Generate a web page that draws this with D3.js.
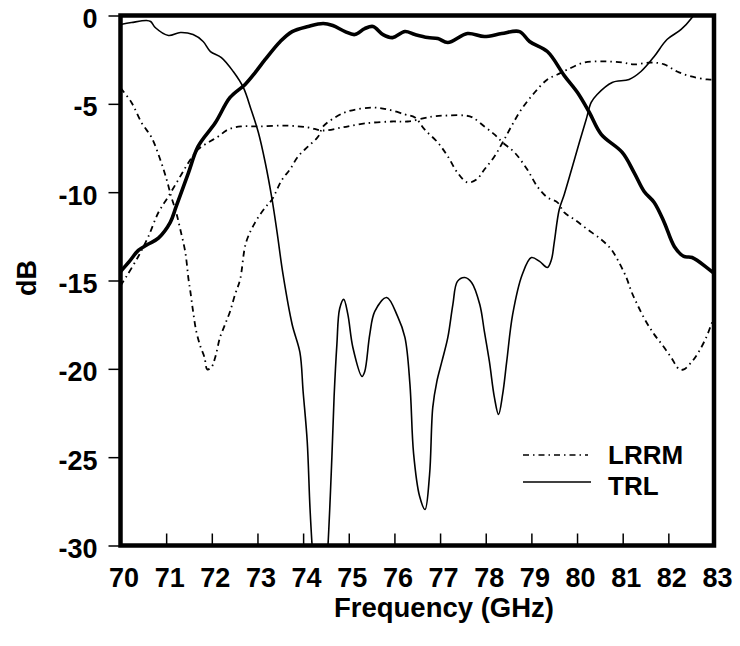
<!DOCTYPE html>
<html>
<head>
<meta charset="utf-8">
<script src="https://cdn.jsdelivr.net/npm/d3@7"></script>
<style>
  body { margin: 0; background: #fff; }
  svg text { font-family: "Liberation Sans", Arial, sans-serif; font-weight: bold; fill: #000; }
</style>
</head>
<body>
<div id="chart"></div>
<script>
// TRL, transmission (thick)
let trlS21 = [
  [70, -14.49], [70.2, -13.9], [70.39, -13.3], [70.6, -12.95], [70.83, -12.6], [71.09, -11.71], [71.22, -10.81],
  [71.49, -8.89], [71.70, -7.41], [72.08, -6.06], [72.40, -4.64], [72.73, -3.90],
  [72.95, -3.23], [73.17, -2.49], [73.50, -1.47], [73.76, -0.91], [74.11, -0.62],
  [74.44, -0.45], [74.65, -0.57], [74.92, -0.91], [75.13, -1.08], [75.35, -0.74],
  [75.53, -0.62], [75.75, -1.08], [75.96, -1.25], [76.23, -0.91], [76.45, -1.08],
  [76.73, -1.25], [76.95, -1.30], [77.17, -1.53], [77.60, -1.02], [77.97, -1.19],
  [78.35, -1.02], [78.74, -0.91], [78.96, -1.47], [79.35, -2.04], [79.72, -3.40],
  [80.01, -4.36], [80.27, -5.49], [80.53, -6.73], [80.99, -7.75], [81.25, -8.89],
  [81.47, -9.96], [81.69, -10.58], [81.91, -11.71], [82.13, -13.07], [82.34, -13.64],
  [82.52, -13.70], [83, -14.60]
];

// TRL, reflection (thin)
let trlS11 = [
  [70, -0.51], [70.24, -0.40], [70.57, -0.28], [70.66, -0.34], [70.76, -0.68],
  [71.05, -1.13], [71.31, -0.96], [71.59, -1.08], [71.81, -1.47], [71.97, -2.04],
  [72.21, -2.38], [72.47, -3.17], [72.69, -4.07], [72.86, -5.32], [73.02, -6.62],
  [73.17, -8.32], [73.32, -10.41], [73.43, -12.28], [73.56, -14.66],
  [73.76, -17.49], [73.93, -19.07], [74.00, -21.28], [74.09, -24.11], [74.15, -27.84],
  [74.21, -30.5], [74.30, -33], [74.46, -33], [74.54, -30.2], [74.63, -25.01],
  [74.68, -21.5], [74.74, -18.6], [74.80, -16.6], [74.89, -16.07], [74.98, -16.92],
  [75.09, -18.79], [75.29, -20.43], [75.35, -20.15], [75.46, -18.05], [75.57, -16.75],
  [75.83, -15.96], [76.07, -17.03], [76.23, -18.22], [76.34, -20.88], [76.42, -24.8],
  [76.55, -27.2], [76.67, -27.96], [76.77, -25.98], [76.84, -22.18], [76.93, -20.71],
  [77.04, -19.58], [77.17, -18.22], [77.28, -16.36], [77.38, -15.05], [77.54, -14.83],
  [77.69, -15.11], [77.87, -16.36], [77.97, -17.88], [78.08, -19.58], [78.19, -21.62],
  [78.28, -22.58], [78.37, -21.45], [78.46, -19.58], [78.59, -16.92], [78.80, -14.66],
  [79.00, -13.70], [79.18, -13.92], [79.35, -14.26], [79.44, -13.81], [79.50, -12.85],
  [79.61, -10.98], [79.72, -10.13], [79.88, -8.72], [80.05, -7.19], [80.20, -5.89],
  [80.31, -4.92], [80.44, -4.47], [80.77, -3.79], [81.14, -3.62], [81.40, -3.17],
  [81.69, -2.32], [81.97, -1.36], [82.28, -0.79], [82.52, -0.11], [82.65, 0.4]
];

// LRRM, reflection
let lrrmS11 = [
  [70, -4.1], [70.24, -4.92], [70.46, -6.06], [70.68, -6.90], [70.87, -8.15],
  [71.01, -9.28], [71.11, -10.24], [71.22, -11.15], [71.31, -12.11], [71.42, -13.41],
  [71.49, -14.94], [71.53, -15.62], [71.59, -16.75], [71.66, -17.88], [71.75, -18.73],
  [71.84, -19.35], [71.90, -20.03], [71.99, -19.92], [72.08, -19.30], [72.18, -18.22],
  [72.29, -17.49], [72.40, -16.75], [72.51, -15.79], [72.62, -14.94], [72.75, -12.85],
  [72.95, -11.71], [73.17, -10.87], [73.32, -10.41], [73.54, -9.28], [73.71, -8.72],
  [73.89, -7.98], [74.11, -7.41], [74.33, -6.85], [74.44, -6.28], [74.70, -5.77],
  [74.98, -5.43], [75.51, -5.21], [75.86, -5.32], [76.23, -5.60], [76.45, -5.77],
  [76.66, -6.45], [76.95, -7.19], [77.17, -7.98], [77.38, -8.89], [77.60, -9.45],
  [77.80, -9.28], [77.97, -8.72], [78.19, -7.98], [78.37, -7.19], [78.56, -6.28],
  [78.78, -5.32], [79.07, -4.36], [79.35, -3.62], [79.57, -3.34], [79.79, -3.06],
  [80.16, -2.66], [80.60, -2.60], [80.99, -2.66], [81.25, -2.77], [81.62, -2.66],
  [81.91, -2.77], [82.19, -3.17], [82.50, -3.45], [82.85, -3.62], [83, -3.62]
];

// LRRM, transmission
let lrrmS21 = [
  [70, -15.3], [70.13, -14.77], [70.39, -13.64], [70.61, -12.51], [70.83, -11.15],
  [71.05, -10.24], [71.27, -9.28], [71.49, -8.32], [71.70, -7.58], [71.92, -7.19],
  [72.14, -6.85], [72.36, -6.45], [72.64, -6.28], [73.02, -6.28], [73.61, -6.23],
  [74.11, -6.34], [74.44, -6.51], [74.85, -6.34], [75.35, -6.11], [75.94, -6.00],
  [76.29, -6.00], [76.82, -5.72], [77.17, -5.66], [77.54, -5.66], [77.71, -5.77],
  [77.97, -6.28], [78.19, -6.73], [78.37, -7.19], [78.63, -7.75], [78.91, -8.72],
  [79.13, -9.68], [79.35, -10.30], [79.57, -10.58], [79.72, -11.15], [79.94, -11.54],
  [80.23, -12.11], [80.53, -12.68], [80.75, -13.24], [80.92, -13.98], [81.08, -14.83],
  [81.19, -15.62], [81.32, -16.36], [81.51, -17.32], [81.69, -18.05], [81.86, -18.62],
  [82.06, -19.35], [82.24, -20.03], [82.34, -20.03], [82.52, -19.58], [82.67, -19.02],
  [82.83, -18.22], [82.94, -17.49], [83, -17.1]
];

let xTicks = d3.range(70, 84);
let yTicks = [0, -5, -10, -15, -20, -25, -30];
let legendLabels = ['LRRM', 'TRL'];

let width = 740,
    height = 646,
    margins = { top: 15.5, right: 26, bottom: 100.5, left: 120.5 };

let x = d3.scaleLinear()
  .domain([70, 83])
  .range([margins.left, width - margins.right]);

let y = d3.scaleLinear()
  .domain([-30, 0])
  .range([height - margins.bottom, margins.top]);

let $svg = d3.select('#chart').append('svg')
  .attr('width', width)
  .attr('height', height);

$svg.append('clipPath')
  .attr('id', 'plot-clip')
  .append('rect')
  .attr('x', x(70))
  .attr('y', y(0))
  .attr('width', x(83) - x(70))
  .attr('height', y(-30) - y(0));

let line = d3.line()
  .x(d => x(d[0]))
  .y(d => y(d[1]))
  .curve(d3.curveCatmullRom.alpha(0.5));

let dashDot = '6,4,1.5,4';

let $lines = $svg.append('g').attr('clip-path', 'url(#plot-clip)');

$lines.append('path')
  .attr('d', line(lrrmS21))
  .attr('fill', 'none')
  .attr('stroke', '#000')
  .attr('stroke-width', 1.8)
  .attr('stroke-dasharray', dashDot);

$lines.append('path')
  .attr('d', line(lrrmS11))
  .attr('fill', 'none')
  .attr('stroke', '#000')
  .attr('stroke-width', 1.8)
  .attr('stroke-dasharray', dashDot);

$lines.append('path')
  .attr('d', line(trlS11))
  .attr('fill', 'none')
  .attr('stroke', '#000')
  .attr('stroke-width', 1.6);

$lines.append('path')
  .attr('d', line(trlS21))
  .attr('fill', 'none')
  .attr('stroke', '#000')
  .attr('stroke-width', 3.6);

// y axis: ticks outward, labels at the left
let yAxis = d3.axisLeft(y)
  .tickValues(yTicks)
  .tickSize(12)
  .tickPadding(11)
  .tickFormat(d => String(d));

let $yAxis = $svg.append('g')
  .attr('transform', `translate(${x(70)},0)`)
  .call(yAxis);

$yAxis.select('.domain').remove();
$yAxis.selectAll('line').attr('stroke-width', 1.5);
$yAxis.selectAll('text')
  .style('font-size', '27px')
  .attr('dy', '0.45em');

// x axis: ticks point into the plot
let xAxis = d3.axisBottom(x)
  .tickValues(xTicks)
  .tickSize(-12)
  .tickPadding(22)
  .tickFormat(d => String(d));

let $xAxis = $svg.append('g')
  .attr('transform', `translate(0,${y(-30)})`)
  .call(xAxis);

$xAxis.select('.domain').remove();
$xAxis.selectAll('line')
  .attr('stroke-width', 1.5)
  .style('display', d => (d === 70 || d === 83) ? 'none' : null);
$xAxis.selectAll('text')
  .style('font-size', '27px')
  .attr('dx', 3);

// frame
$svg.append('rect')
  .attr('x', x(70))
  .attr('y', y(0))
  .attr('width', x(83) - x(70))
  .attr('height', y(-30) - y(0))
  .attr('fill', 'none')
  .attr('stroke', '#000')
  .attr('stroke-width', 4.5);

// axis titles
$svg.append('text')
  .attr('x', 444)
  .attr('y', 617)
  .attr('text-anchor', 'middle')
  .style('font-size', '27.5px')
  .text('Frequency (GHz)');

$svg.append('text')
  .attr('transform', 'translate(36,278) rotate(-90)')
  .attr('text-anchor', 'middle')
  .style('font-size', '27px')
  .text('dB');

// legend
let $legend = $svg.append('g');

$legend.append('line')
  .attr('x1', 523).attr('x2', 588)
  .attr('y1', 455).attr('y2', 455)
  .attr('stroke', '#000')
  .attr('stroke-width', 1.6)
  .attr('stroke-dasharray', dashDot);

$legend.append('line')
  .attr('x1', 523).attr('x2', 591)
  .attr('y1', 482).attr('y2', 482)
  .attr('stroke', '#000')
  .attr('stroke-width', 1.6);

$legend.selectAll('.legend-label')
  .data(legendLabels)
  .enter()
  .append('text')
  .attr('class', 'legend-label')
  .attr('x', 608)
  .attr('y', (d, i) => 464 + i * 31)
  .style('font-size', '26px')
  .text(d => d);
</script>
</body>
</html>
